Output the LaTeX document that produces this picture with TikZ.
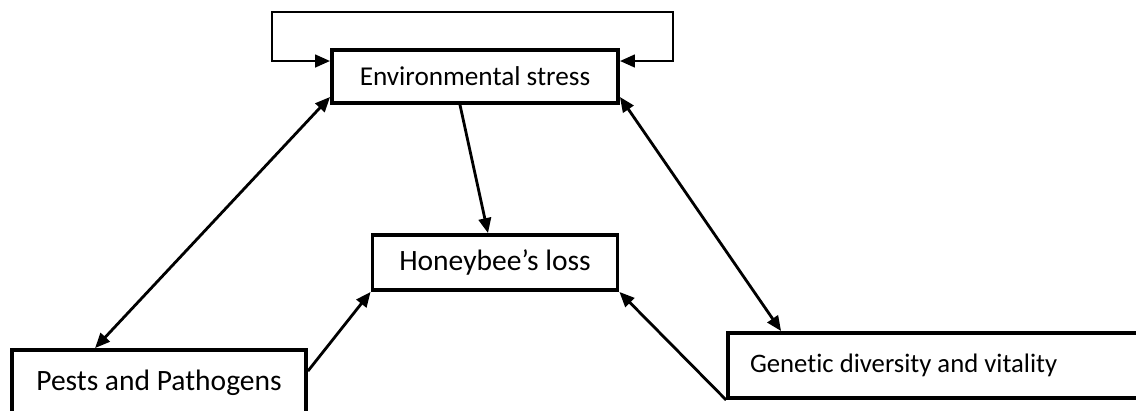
\documentclass[tikz,border=0pt]{standalone}
\usepackage{fontspec}
\setmainfont{Carlito}[Ligatures=NoCommon]
\usepackage{tikz}
\usetikzlibrary{arrows.meta, positioning}
\tikzset{
  box/.style={rectangle, draw=black, fill=white, inner sep=0pt,
    align=center, font=\fontsize{16.8}{20}\selectfont, line width=2.2pt},
  arrow/.style={-{Triangle[length=0.3cm,width=0.25cm]}, line width=1.6pt},
  twoway/.style={{Triangle[length=0.3cm,width=0.25cm]}-{Triangle[length=0.3cm,width=0.25cm]}, line width=1.6pt}
}

\begin{document}
\begin{tikzpicture}[x=0.02cm, y=-0.02cm]
  \useasboundingbox (0,0) rectangle (1136,410);

  % Boxes
  \node[box, minimum width=5.72cm, minimum height=1.06cm, font=\fontsize{15.5}{18}\selectfont] (env) at (475,76.5) {Environmental stress};
  \node[box, minimum width=4.9cm, minimum height=1.1cm] (hb) at (495,262.5) {Honeybee’s loss};
  \node[box, minimum width=5.88cm, minimum height=1.32cm] (pests) at (159,383) {Pests and Pathogens};
  \node[box, minimum height=1.3cm, inner xsep=0.44cm, font=\fontsize{15.2}{18}\selectfont] (gen) at (935,365.5) {\makebox[7.4cm][l]{Genetic diversity and vitality}};

  % Loop over the top
  \coordinate (loopL) at (272,12);
  \coordinate (loopR) at (673,12);
  \draw[twoway] ([yshift=0.31cm]env.west) -| (loopL) -- (loopR) |- ([yshift=0.31cm]env.east);

  % Links
  \draw[arrow] ([xshift=-0.3cm]env.south) -- ([xshift=-0.14cm]hb.north);
  \draw[twoway] ([yshift=0.16cm]env.south west) -- ([xshift=1.7cm]pests.north west);
  \draw[twoway] ([yshift=0.16cm]env.south east) -- ([xshift=1.1cm]gen.north west);
  \draw[arrow] ([yshift=-0.46cm]pests.north east) -- (hb.south west);
  \draw[arrow] (gen.south west) -- (hb.south east);
\end{tikzpicture}
\end{document}
